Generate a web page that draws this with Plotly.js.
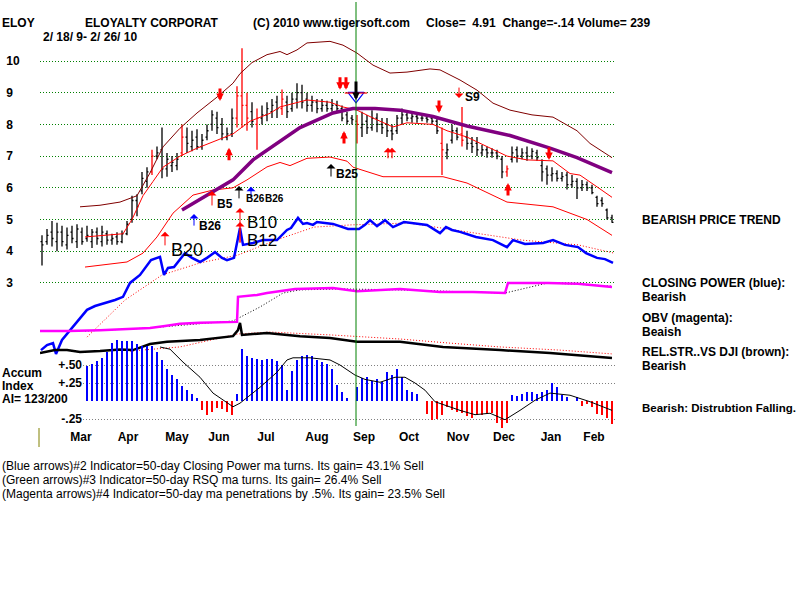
<!DOCTYPE html>
<html>
<head>
<meta charset="utf-8">
<script src="https://cdn.plot.ly/plotly-3.0.1.min.js"></script>
<style>
  html, body { margin: 0; padding: 0; background: #fff; }
  #chart { width: 800px; height: 600px; }
</style>
</head>
<body>
<div id="chart"></div>
<script>
// ELOY daily bars 2/18/09 - 2/26/10, one slot per bar (x = slot index)
const barOpen  = [4.3,4.3,4.6,4.3,4.6,4.2,4.6,4.3,4.6,4.4, 4.3,4.6,4.3,4.55,4.35,4.45,4.3,4.55,5.0,5.6,
                  5.9,6.2,6.5,7.0,7.2,6.6,6.7,6.7,7.1,7.6, 7.3,7.6,7.3,7.6,8.0,8.2,8.0,7.6,7.7,8.2,
                  8.9,8.6,8.4,8.0,8.2,8.3,8.4,8.7,8.5,8.7, 8.5,8.8,9.0,8.8,8.6,8.7,8.5,8.6,8.5,8.6,
                  8.5,8.3,8.2,8.1,7.9,8.1,7.9,8.2,8.0,8.0, 7.8,7.8,8.2,8.3,8.2,8.25,8.2,8.2,8.2,8.1,
                  7.4,7.1,7.5,7.8,7.7,7.6,7.4,7.4,7.1,7.2, 7.1,7.1,6.9,6.5,6.9,7.2,7.0,7.1,7.0,7.1,
                  6.7,6.6,6.4,6.45,6.3,6.4,6.1,6.2,6.0,6.1, 6.0,5.7,5.6,5.3,5.05];
const barHigh  = [4.5,4.7,4.95,4.9,4.8,4.75,4.8,4.85,4.75,4.8, 4.7,4.75,4.8,4.65,4.55,4.6,4.65,4.95,5.75,5.8,
                  6.5,6.65,7.2,7.3,7.9,7.1,7.0,7.1,8.0,7.9, 7.8,7.85,7.7,8.0,8.45,8.4,8.2,7.9,8.5,9.2,
                  10.4,9.0,8.7,8.5,8.6,8.7,8.8,8.9,9.1,8.9, 9.0,9.3,9.25,9.0,8.9,8.8,8.8,8.75,8.8,8.75,
                  8.6,8.4,8.3,8.3,8.4,8.3,8.45,8.35,8.2,8.2, 8.0,8.3,8.5,8.45,8.4,8.35,8.35,8.3,8.3,8.2,
                  7.9,7.4,8.0,7.9,8.55,7.8,7.6,7.6,7.35,7.3, 7.25,7.2,7.0,6.7,7.3,7.3,7.25,7.3,7.25,7.2,
                  6.9,6.7,6.65,6.55,6.5,6.5,6.4,6.3,6.25,6.2, 6.1,5.75,5.7,5.35,5.15];
const barLow   = [3.55,4.2,4.15,4.0,4.15,4.05,4.25,4.1,4.2,4.3, 4.1,4.2,4.15,4.2,4.2,4.2,4.25,4.5,4.9,5.1,
                  5.8,6.0,6.4,6.9,6.3,6.35,6.5,6.55,7.0,7.1, 7.15,7.2,7.2,7.5,7.8,7.7,7.5,7.5,7.6,7.9,
                  7.9,7.8,7.9,7.2,8.0,8.1,8.2,8.2,8.3,8.2, 8.4,8.5,8.5,8.4,8.4,8.35,8.4,8.4,8.4,8.4,
                  8.1,8.0,8.0,7.4,7.6,7.7,7.8,7.75,7.7,7.6, 7.5,7.7,8.0,8.1,8.05,8.05,8.1,8.05,8.0,7.7,
                  6.4,6.9,7.4,7.5,7.3,7.2,7.1,7.0,7.0,6.95, 6.95,6.9,6.3,6.35,6.8,6.8,6.9,6.85,6.9,6.85,
                  6.2,6.1,6.2,6.2,6.2,5.95,6.0,5.65,5.9,5.9, 5.8,5.4,5.4,5.0,4.9];
const barClose = [4.2,4.5,4.4,4.6,4.3,4.5,4.4,4.7,4.3,4.5, 4.6,4.4,4.6,4.35,4.4,4.3,4.55,4.85,5.6,5.4,
                  6.3,6.5,7.0,7.1,6.6,6.9,6.8,6.9,7.6,7.4, 7.5,7.3,7.5,7.8,8.3,7.9,7.7,7.7,8.2,8.9,
                  8.6,8.2,8.1,8.2,8.3,8.5,8.6,8.5,8.8,8.4, 8.8,9.0,8.7,8.6,8.7,8.5,8.6,8.5,8.6,8.5,
                  8.2,8.1,8.15,8.0,8.0,7.9,8.2,8.0,7.9,7.8, 7.7,8.2,8.3,8.2,8.25,8.2,8.2,8.15,8.1,7.8,
                  7.2,7.2,7.8,7.6,7.5,7.4,7.3,7.2,7.2,7.1, 7.1,7.0,6.5,6.6,7.1,7.0,7.1,7.0,7.15,6.95,
                  6.5,6.4,6.45,6.3,6.35,6.1,6.2,6.0,6.1,6.0, 5.85,5.5,5.5,5.05,4.91];
// high-volume days drawn in red
const redBars = [22, 28, 39, 40, 41, 43, 48, 63, 80, 84, 93];

// Price bands and 65-day moving average (price units)
const outerBandX = [7.6,11.6,15.6,19,21.6,24.2,27.6,31,35,38.2,39.6,42,45,47.6,49,51,53,57.6,60.2,63,66.2,69.6,73,77.6,79.6,83.6,87,90.2,93.6,98,102.2,107,109.6,114];
const outerBandY = [5.4,5.45,5.55,5.75,6.47,7.29,7.88,8.36,8.86,9.3,9.6,9.95,10.2,10.3,10.2,10.35,10.57,10.62,10.5,10.25,9.87,9.62,9.65,9.75,9.72,9.4,9.08,8.67,8.45,8.3,8.23,7.8,7.4,6.95];
const upperBandX = [8.6,16.2,18,20.2,22.2,24.2,27.6,31,35,38.2,41.6,45.6,47.6,53,57.6,60.2,63,66.2,70.2,73,78.2,81,85,89,93,97,102.2,105.6,107.6,111,114];
const upperBandY = [4.45,4.55,5.0,5.75,6.2,6.65,7.0,7.25,7.5,7.7,8.1,8.35,8.55,8.77,8.7,8.55,8.45,8.2,7.92,8.05,8.0,7.8,7.6,7.3,7.0,6.88,6.85,6.45,6.4,6.03,5.7];
const lowerBandX = [8.6,17,20.2,23,26.2,30.2,34.2,38.2,41,45,47.6,49.6,53,57.6,61,62.2,68.2,80.2,85,93,102.2,109,114];
const lowerBandY = [3.5,3.66,3.94,4.45,5.2,5.77,5.93,6.0,6.25,6.66,6.8,6.7,6.93,6.97,6.84,6.65,6.35,6.35,6.15,5.55,5.4,5.0,4.5];
const ma65X = [28,34.2,38.2,42.2,47,51.6,58.2,62.2,66.6,71.6,78.2,85,93.6,101.6,107,114];
const ma65Y = [5.3,5.87,6.25,6.88,7.4,7.9,8.36,8.5,8.5,8.45,8.25,7.95,7.65,7.25,6.95,6.48];

// Closing Power (blue) and its moving average, plotted on the price scale
const cpX = [-0.2,1,2.2,2.8,4,5.2,7,9,10.6,12.8,14.6,16.2,17.6,19.6,21.8,23.6,24.4,25.2,26.4,28.6,30,31.6,33,34.6,36,37,38.4,39.6,40.2,42.2,44.2,47,49,49.8,51.2,52.2,53,54.2,55,58.2,61.2,63.4,64.6,65.6,67,68.6,70.2,72.4,77,79.6,80.8,82,83.6,86.8,90.2,93,94.2,96.6,100.2,102.2,104.6,107.2,108.8,111,112.6,114.2];
const cpY = [0.88,1.04,1.10,0.76,1.20,1.42,1.77,2.15,2.27,2.37,2.46,2.56,3.00,3.25,3.72,3.82,3.25,3.47,3.50,3.94,3.79,3.66,3.79,3.97,3.79,3.72,3.79,4.73,4.20,4.26,4.35,4.35,4.67,4.73,5.05,4.86,4.89,4.83,4.92,4.86,4.70,4.70,4.83,4.98,4.79,4.98,4.76,4.92,4.83,4.57,4.76,4.67,4.61,4.45,4.35,4.13,4.35,4.23,4.26,4.35,4.20,4.13,3.94,3.79,3.75,3.63];
const cpMaX = [9,16.6,24,31.6,39.2,46.8,54.4,61.8,73.2,84.6,96,107.2,114.4];
const cpMaY = [1.29,2.46,3.25,3.63,3.88,4.35,4.76,4.83,4.89,4.61,4.35,4.20,3.94];

// On-Balance Volume (magenta) and its moving average
const obvX = [-0.4,5.2,11.6,17.6,21.6,24.6,27.6,31.6,39,39.2,43,45,50.6,58.2,63,71.6,79.6,86.2,92.6,93.2,101.2,107.2,114];
const obvY = [1.48,1.48,1.51,1.55,1.58,1.64,1.71,1.74,1.77,2.56,2.62,2.68,2.81,2.84,2.74,2.81,2.71,2.71,2.68,3.0,3.0,2.97,2.87];
const obvMaX = [8.6,21.6,38.2,43.6,48.2,51.6,59.6,71.6,92.6,101.2,114];
const obvMaY = [1.48,1.58,1.80,2.24,2.68,2.78,2.81,2.78,2.68,3.0,2.90];

// Relative strength vs DJI and its moving average
const rsX = [-0.4,2.6,5,7.6,11.6,15.6,18.2,21.6,25,31.6,38.2,39.2,39.6,40,45,51.6,57.6,63,71.6,80.2,91.6,101.6,114];
const rsY = [0.79,0.88,0.88,0.82,0.85,0.9,0.88,1.07,1.14,1.20,1.32,1.51,1.74,1.36,1.42,1.32,1.26,1.14,1.14,0.98,0.88,0.79,0.63];
const rsMaX = [17.6,27.6,39.2,45.6,57.6,71.6,81.6,91.6,103.6,114];
const rsMaY = [0.85,0.98,1.39,1.45,1.36,1.23,1.10,0.98,0.88,0.76];

// Accumulation Index, slots 9..114
const accumStart = 9;
const accumVals = [0.48,0.52,0.55,0.60,0.68,0.80,0.85,0.83,0.84,0.84,
                   0.79,0.76,0.76,0.77,0.68,0.57,0.45,0.36,0.30,0.21,
                   0.15,0.10,0.04,-0.12,-0.20,-0.15,-0.10,-0.11,-0.15,-0.20,
                   0.10,0.72,0.62,0.60,0.58,0.57,0.58,0.58,0.56,0.50,
                   0.15,0.42,0.57,0.62,0.64,0.62,0.57,0.54,0.52,0.45,
                   0.22,0.12,0.04,0.00,0.20,0.32,0.33,0.28,0.30,0.26,
                   0.40,0.36,0.44,0.33,0.15,0.12,0.10,0.00,-0.18,-0.26,
                   -0.25,-0.20,-0.08,-0.13,-0.15,-0.17,-0.21,-0.23,-0.20,-0.20,
                   -0.18,-0.17,-0.30,-0.40,-0.30,0.08,0.07,0.10,0.12,0.12,
                   0.10,0.12,0.15,0.25,0.20,0.08,0.05,0.00,0.05,-0.07,
                   -0.04,-0.08,-0.18,-0.20,-0.23,-0.32];
const accumMaX = [23.6,25.6,28.2,31.6,34.2,36.2,38.2,39.6,43.6,47,49,50.2,53.6,57.6,59.6,62.6,64.6,67.6,70.6,72.6,74.6,76.6,78.6,83.6,86.6,89.6,92.6,95.6,98.6,101.6,105.6,109.6,111.6,114];
const accumMaY = [0.75,0.72,0.54,0.33,0.11,0.01,-0.08,-0.03,0.19,0.40,0.57,0.60,0.60,0.57,0.50,0.36,0.30,0.26,0.33,0.33,0.25,0.15,-0.01,-0.13,-0.19,-0.17,-0.26,-0.13,0.01,0.11,0.08,-0.01,-0.06,-0.13];

// Axis labels
const months = ['Mar','Apr','May','Jun','Jul','Aug','Sep','Oct','Nov','Dec','Jan','Feb'];
const monthPos = [7.8,17.2,27,35.4,44.8,55,64.4,73.4,83.2,92.4,101.8,110.4];
const priceTicks = [3,4,5,6,7,8,9,10];
const accumTicks = [-0.25, 0.25, 0.5];
const accumTickText = ['-.25', '+.25', '+.50'];

// Buy/sell signals: slot, price at arrow tip
const thickDownX = [35.6, 59.6, 60.8, 79.4, 101.4];
const thickDownY = [8.74, 9.09, 9.09, 8.36, 6.88];
const thickUpX = [37.4, 60.4, 93.2];
const thickUpY = [7.26, 7.79, 6.15];
const hollowUpX = [69.2, 70.0];
const hollowUpY = [7.26, 7.26];
const thinRedUpX = [24.6, 34, 39.6, 39.6];
const thinRedUpY = [4.61, 5.90, 5.36, 4.92];
const thinBlackUpX = [39.4, 57.8];
const thinBlackUpY = [6.06, 6.75];
const thinBlueUpX = [30.4, 41.8];
const thinBlueUpY = [5.17, 6.03];
const sellS9X = 83.4, sellS9Y = 8.83;
const septSignalX = 62.8, septSignalY = 8.77;

// Signal labels: text, slot, price
const bigLabels = [['B10', 44, 4.89], ['B12', 44, 4.34]];
const b20Label = ['B20', 29, 4.04];
const smallLabels = [['B5', 36.6, 5.49], ['B26', 33.6, 4.79], ['B25', 61, 6.44], ['S9', 86, 8.86]];
const pairedLabels = [['B26', 42.6, 5.65], ['B26', 46.4, 5.65]];

// ---- plot geometry: plot area spans 40..615 px across, 40..428 px down
const PL = 40, PR = 615, PT = 40, PB = 428;
const PX = x => (x - PL) / (PR - PL);
const PY = y => (PB - y) / (PB - PT);
const FONT = 'Arial, "Liberation Sans", sans-serif';
const DOTS = '1px,2px';

const idx = barOpen.map((_, i) => i);
const isRed = i => redBars.includes(i);

function ohlc(keep, color) {
  const xs = idx.filter(keep);
  return {
    type: 'ohlc', x: xs,
    open: xs.map(i => barOpen[i]), high: xs.map(i => barHigh[i]),
    low: xs.map(i => barLow[i]), close: xs.map(i => barClose[i]),
    increasing: { line: { color: color, width: 1.3 } },
    decreasing: { line: { color: color, width: 1.3 } },
    tickwidth: 0.3, hoverinfo: 'skip', xaxis: 'x', yaxis: 'y'
  };
}
function line(x, y, color, width, dash, axes) {
  return {
    type: 'scatter', mode: 'lines', x: x, y: y,
    line: { color: color, width: width, dash: dash || 'solid' },
    hoverinfo: 'skip', xaxis: axes ? axes[0] : 'x', yaxis: axes ? axes[1] : 'y'
  };
}

const accumX = accumVals.map((_, k) => accumStart + k);

const traces = [
  line(outerBandX, outerBandY, '#800000', 1),
  line(upperBandX, upperBandY, '#ff0000', 1),
  line(lowerBandX, lowerBandY, '#ff0000', 1),
  ohlc(i => !isRed(i), '#000000'),
  ohlc(i => isRed(i), '#ff0000'),
  line(ma65X, ma65Y, '#800080', 3.5),
  line(cpMaX, cpMaY, '#ff0000', 1, DOTS),
  line(cpX, cpY, '#0000ff', 2.5),
  line(obvMaX, obvMaY, '#000000', 1, DOTS),
  line(obvX, obvY, '#ff00ff', 2.5),
  line(rsMaX, rsMaY, '#ff0000', 1, DOTS),
  line(rsX, rsY, '#000000', 2.5),
  {
    type: 'bar', x: accumX, y: accumVals, width: 0.5,
    marker: { color: accumVals.map(v => v >= 0 ? '#0000ff' : '#ff0000'), line: { width: 0 } },
    hoverinfo: 'skip', xaxis: 'x2', yaxis: 'y2'
  },
  line(accumMaX, accumMaY, '#000000', 1, 'solid', ['x2', 'y2']),
  {
    type: 'scatter', mode: 'markers', x: [septSignalX], y: [8.90],
    marker: { symbol: 'triangle-down-open', size: 14, color: '#0000ff', line: { width: 1.2 } },
    hoverinfo: 'skip'
  },
  {
    type: 'scatter', mode: 'markers', x: [septSignalX], y: [8.99],
    marker: { symbol: 'line-ew-open', size: 16, color: '#ff0000', line: { width: 1.2, color: '#ff0000' } },
    hoverinfo: 'skip'
  }
];

// ---- annotations
const ann = [];
function arrow(x, y, dy, color, width, head, size) {
  ann.push({ x: x, y: y, xref: 'x', yref: 'y', ax: 0, ay: dy, text: '', showarrow: true,
             arrowcolor: color, arrowwidth: width, arrowhead: head, arrowsize: size });
}
thickDownX.forEach((x, k) => arrow(x, thickDownY[k], -14, '#ff0000', 3, 2, 0.5));
thickUpX.forEach((x, k) => arrow(x, thickUpY[k], 14, '#ff0000', 3, 2, 0.5));
hollowUpX.forEach((x, k) => arrow(x, hollowUpY[k], 12, '#ff0000', 1.2, 1, 1.2));
arrow(thinRedUpX[0], thinRedUpY[0], 15, '#ff0000', 1, 1, 1.5);
arrow(thinRedUpX[1], thinRedUpY[1], 16, '#ff0000', 1, 1, 1.5);
arrow(thinRedUpX[2], thinRedUpY[2], 36, '#ff0000', 1, 1, 1.5);
arrow(thinRedUpX[3], thinRedUpY[3], 22, '#ff0000', 1, 1, 1.5);
thinBlackUpX.forEach((x, k) => arrow(x, thinBlackUpY[k], 14, '#000000', 1, 1, 1.5));
thinBlueUpX.forEach((x, k) => arrow(x, thinBlueUpY[k], 13, '#0000ff', 1, 1, 1.5));
arrow(sellS9X, sellS9Y, -12, '#ff0000', 1, 1, 1.5);
arrow(septSignalX, septSignalY, -20, '#000000', 3, 2, 0.5);

ann.push({ x: b20Label[1], y: b20Label[2], xref: 'x', yref: 'y', text: b20Label[0], showarrow: false,
  font: { family: FONT, size: 18, color: '#000' } });
bigLabels.forEach(([t, x, y]) => ann.push({ x: x, y: y, xref: 'x', yref: 'y', text: t, showarrow: false,
  borderpad: 0, font: { family: FONT, size: 17, color: '#000' } }));
smallLabels.forEach(([t, x, y]) => ann.push({ x: x, y: y, xref: 'x', yref: 'y', text: '<b>' + t + '</b>', showarrow: false,
  borderpad: 0, font: { family: FONT, size: 12, color: '#000' } }));
pairedLabels.forEach(([t, x, y]) => ann.push({ x: x, y: y, xref: 'x', yref: 'y', text: '<b>' + t + '</b>', showarrow: false,
  borderpad: 0, font: { family: FONT, size: 10, color: '#000' } }));

function label(text, x, y, bold, size) {
  ann.push({ xref: 'paper', yref: 'paper', x: PX(x), y: PY(y), xanchor: 'left', yanchor: 'middle',
             text: bold ? '<b>' + text + '</b>' : text, showarrow: false, borderpad: 0,
             font: { family: FONT, size: size || 12, color: '#000' } });
}
const sp = '\u00a0';
label('ELOY', 1, 23, true);
label('ELOYALTY CORPORAT', 84, 23, true);
label('(C) 2010 www.tigersoft.com', 252, 23, true);
label('Close=' + sp + sp + '4.91' + sp + sp + 'Change=-.14 Volume=' + sp + '239', 425, 23, true);
label('2/ 18/ 9- 2/ 26/ 10', 42, 37, true);
label('Accum', 1, 373, true);
label('Index', 1, 386, true);
label('AI= 123/200', 1, 399, true);
label('BEARISH PRICE TREND', 641, 220, true);
label('CLOSING POWER (blue):', 641, 283, true);
label('Bearish', 641, 297, true);
label('OBV (magenta):', 641, 318, true);
label('Beaish', 641, 332, true);
label('REL.STR..VS DJI (brown):', 641, 352, true);
label('Bearish', 641, 366, true);
label('Bearish: Distrubtion Falling.', 641, 408, true, 11.5);
label('(Blue arrows)#2 Indicator=50-day Closing Power ma turns. Its gain= 43.1% Sell', 1, 466, false, 12);
label('(Green arrows)#3 Indicator=50-day RSQ ma turns. Its gain= 26.4% Sell', 1, 480, false, 12);
label('(Magenta arrows)#4 Indicator=50-day ma penetrations by .5%. Its gain= 23.5% Sell', 1, 494, false, 12);

const layout = {
  width: 800, height: 600,
  margin: { l: PL, r: 800 - PR, t: PT, b: 600 - PB, pad: 0 },
  paper_bgcolor: '#ffffff', plot_bgcolor: 'rgba(0,0,0,0)',
  showlegend: false,
  font: { family: FONT, size: 12, color: '#000' },
  xaxis: {
    domain: [0, 1], range: [-0.4, 114.6], showgrid: false, zeroline: false, showline: false,
    tickmode: 'array', tickvals: monthPos, ticktext: months.map(m => '<b>' + m + '</b>'),
    ticks: '', tickfont: { size: 12 }, rangeslider: { visible: false }, fixedrange: true
  },
  yaxis: {
    domain: [0, 1], range: [10 - (PB - 61) / 31.7, 10 + (61 - PT) / 31.7],
    tickmode: 'array', tickvals: priceTicks,
    ticktext: priceTicks.map(v => '<b>' + v + (v < 10 ? '\u2007' : '') + '</b>'),
    showgrid: true, gridcolor: '#008000', griddash: DOTS, gridwidth: 1,
    zeroline: false, showline: false, ticks: 'outside', ticklen: 17, tickcolor: 'rgba(0,0,0,0)',
    tickfont: { size: 12 }, fixedrange: true
  },
  xaxis2: {
    domain: [PX(83), 1], range: [(83 - 42) / 5, 114.6], anchor: 'y2',
    visible: false, showgrid: false, zeroline: false, fixedrange: true
  },
  yaxis2: {
    domain: [0, 1], anchor: 'x2', range: [-(PB - 401) / 72, (401 - PT) / 72],
    tickmode: 'array', tickvals: accumTicks, ticktext: accumTickText.map(t => '<b>' + t + '</b>'),
    showgrid: true, gridcolor: '#808080', griddash: DOTS, gridwidth: 1,
    zeroline: false, showline: false, ticks: '', tickfont: { size: 12 }, fixedrange: true
  },
  shapes: [
    { type: 'line', xref: 'x', yref: 'paper', x0: septSignalX, x1: septSignalX, y0: PY(426), y1: PY(2),
      line: { color: '#008000', width: 1 } },
    { type: 'line', xref: 'paper', yref: 'paper', x0: PX(39), x1: PX(39), y0: PY(428), y1: PY(447),
      line: { color: '#808000', width: 1 } }
  ],
  annotations: ann,
  bargap: 0
};

Plotly.newPlot('chart', traces, layout, { staticPlot: true, displayModeBar: false });
</script>
</body>
</html>
